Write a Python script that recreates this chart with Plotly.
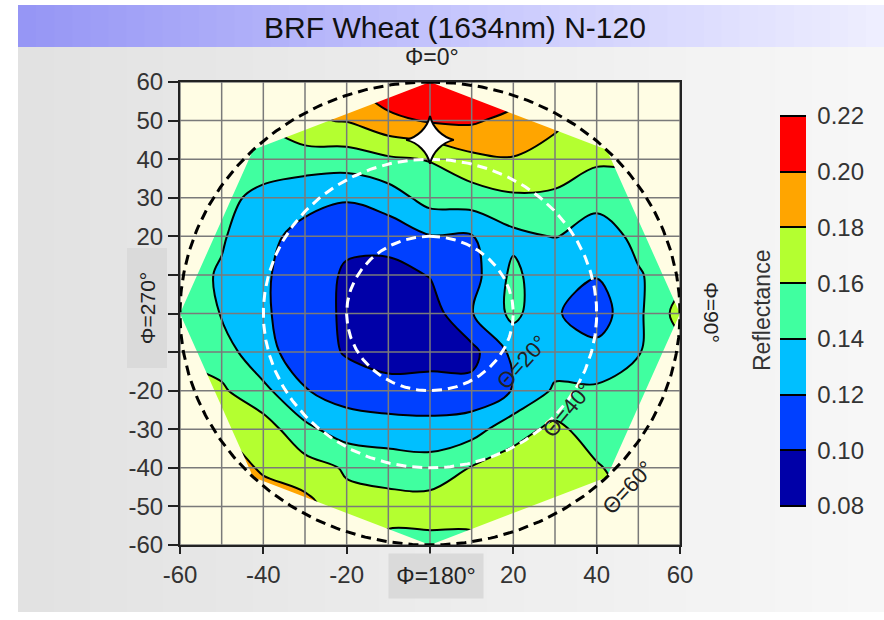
import numpy as np
import plotly.graph_objects as go

N = None

# ---------------- data ----------------
# Cartesian view-zenith grid (degrees): x = theta*sin(phi), y = theta*cos(phi)
GRID_X = [-60, -50, -40, -30, -20, -10, 0, 10, 20, 30, 40, 50, 60]
GRID_Y = [-60, -50, -40, -30, -20, -10, 0, 10, 20, 30, 40, 50, 60]

# reflectance rows, one per GRID_Y value (bottom to top); None = not sampled
BRF_Y_M60 = [N, N, N, N, N, 0.155, 0.155, 0.155, N, N, N, N, N]
BRF_Y_M50 = [N, N, 0.188, 0.187, 0.165, 0.167, 0.168, 0.168, 0.168, 0.168, 0.165, N, N]
BRF_Y_M40 = [N, 0.188, 0.178, 0.168, 0.158, 0.152, 0.149, 0.161, 0.170, 0.172, 0.162, 0.150, N]
BRF_Y_M30 = [N, 0.178, 0.170, 0.145, 0.130, 0.128, 0.127, 0.132, 0.152, 0.165, 0.150, 0.148, N]
BRF_Y_M20 = [0.172, 0.163, 0.145, 0.121, 0.112, 0.108, 0.107, 0.106, 0.121, 0.143, 0.143, 0.148, 0.152]
BRF_Y_M10 = [0.155, 0.150, 0.125, 0.112, 0.098, 0.090, 0.093, 0.094, 0.125, 0.130, 0.126, 0.139, 0.153]
BRF_Y_0 = [0.152, 0.139, 0.122, 0.112, 0.096, 0.088, 0.090, 0.119, 0.145, 0.122, 0.110, 0.136, 0.168]
BRF_Y_10 = [0.148, 0.138, 0.122, 0.112, 0.097, 0.093, 0.101, 0.112, 0.145, 0.123, 0.121, 0.138, 0.153]
BRF_Y_20 = [0.150, 0.142, 0.126, 0.113, 0.105, 0.108, 0.119, 0.119, 0.135, 0.141, 0.128, 0.146, 0.152]
BRF_Y_30 = [N, 0.148, 0.132, 0.127, 0.122, 0.130, 0.148, 0.150, 0.157, 0.157, 0.148, 0.155, N]
BRF_Y_40 = [N, 0.155, 0.155, 0.150, 0.150, 0.157, 0.161, 0.175, 0.179, 0.170, 0.163, 0.162, N]
BRF_Y_50 = [N, N, 0.161, 0.178, 0.181, 0.195, 0.202, 0.203, 0.193, 0.185, 0.170, N, N]
BRF_Y_60 = [N, N, N, N, 0.199, 0.215, 0.219, 0.218, 0.215, N, N, N, N]

BRF = [BRF_Y_M60, BRF_Y_M50, BRF_Y_M40, BRF_Y_M30, BRF_Y_M20, BRF_Y_M10, BRF_Y_0,
       BRF_Y_10, BRF_Y_20, BRF_Y_30, BRF_Y_40, BRF_Y_50, BRF_Y_60]

LEVEL_START, LEVEL_END, LEVEL_STEP = 0.08, 0.22, 0.02
BAND_COLORS = ["#0000A8", "#0040FF", "#00BFFF", "#40FFA0", "#B4FF30", "#FFA500", "#FF0000"]
COLORBAR_TICKS = [0.08, 0.10, 0.12, 0.14, 0.16, 0.18, 0.20, 0.22]

X_TICKS = [-60, -40, -20, 0, 20, 40, 60]
X_TICK_TEXT = ["-60", "-40", "-20", "", "20", "40", "60"]
Y_TICKS = [-60, -50, -40, -30, -20, -10, 0, 10, 20, 30, 40, 50, 60]
Y_TICK_TEXT = ["-60", "-50", "-40", "-30", "-20", "", "", "", "20", "30", "40", "50", "60"]
GRID_LINES = [-60, -50, -40, -30, -20, -10, 0, 10, 20, 30, 40, 50, 60]

THETA_RINGS = [20, 40, 60]
HULL_THETA = 60
HULL_PHI = [0, 45, 90, 135, 180, 225, 270, 315]
SUN_THETA = [45]
SUN_PHI = [0]

CREAM = "#FFFDE4"
FONT = "Liberation Sans, Arial, sans-serif"

# ---------------- helpers for paper coordinates ----------------
PLOT_L, PLOT_R, PLOT_T, PLOT_B = 180, 680, 82, 545
W, H = 884, 620


def pxx(p):
    return (p - PLOT_L) / (PLOT_R - PLOT_L)


def pxy(p):
    return (PLOT_B - p) / (PLOT_B - PLOT_T)


fig = go.Figure()

# contour
n = len(BAND_COLORS)
colorscale = []
for i, c in enumerate(BAND_COLORS):
    colorscale.append([i / n, c])
    colorscale.append([(i + 1) / n, c])

fig.add_trace(go.Contour(
    x=GRID_X, y=GRID_Y, z=BRF,
    autocontour=False, connectgaps=True,
    contours=dict(start=LEVEL_START, end=LEVEL_END, size=LEVEL_STEP,
                  coloring="fill", showlines=True),
    line=dict(color="black", width=2, smoothing=1),
    colorscale=colorscale, zmin=LEVEL_START, zmax=LEVEL_END,
    hoverinfo="skip",
    colorbar=dict(
        x=pxx(780), xanchor="left", xref="paper",
        y=pxy(311), yanchor="middle", yref="paper",
        len=390, lenmode="pixels", ypad=0, xpad=0,
        thickness=26, thicknessmode="pixels",
        outlinewidth=0,
        tickvals=COLORBAR_TICKS, tickformat=".2f",
        ticks="outside", ticklen=7, tickcolor="rgba(0,0,0,0)",
        tickfont=dict(family=FONT, size=24, color="#333"),
    ),
))

# cream mask outside the sampled octagon (rectangle CCW, hull CW)
hull_phi = np.radians(HULL_PHI + [360])
mx = [0, -60, -60, 60, 60, 0] + list(HULL_THETA * np.sin(hull_phi))
my = [60, 60, -60, -60, 60, 60] + list(HULL_THETA * np.cos(hull_phi))
fig.add_trace(go.Scatter(x=mx, y=my, mode="lines", fill="toself", fillcolor=CREAM,
                         line=dict(width=0, color=CREAM), hoverinfo="skip", showlegend=False))

# grid lines (drawn over the fill)
gx, gy = [], []
for v in GRID_LINES:
    gx += [v, v, None]
    gy += [GRID_LINES[0], GRID_LINES[-1], None]
    gx += [GRID_LINES[0], GRID_LINES[-1], None]
    gy += [v, v, None]
fig.add_trace(go.Scatter(x=gx, y=gy, mode="lines", line=dict(color="#7a7a7a", width=1.5),
                         hoverinfo="skip", showlegend=False))

# view-zenith circles
ang = np.radians(np.linspace(0, 360, 361))
for r in THETA_RINGS:
    col = "white" if r < HULL_THETA else "black"
    fig.add_trace(go.Scatter(x=r * np.sin(ang), y=r * np.cos(ang), mode="lines",
                             line=dict(color=col, width=3, dash="10px,6px"),
                             hoverinfo="skip", showlegend=False))

# sun position
sun_phi = np.radians(SUN_PHI)
fig.add_trace(go.Scatter(x=list(np.array(SUN_THETA) * np.sin(sun_phi)),
                         y=list(np.array(SUN_THETA) * np.cos(sun_phi)),
                         mode="markers",
                         marker=dict(symbol="star-diamond", size=34, color="white",
                                     line=dict(color="black", width=2)),
                         hoverinfo="skip", showlegend=False))

# ---------------- background panel ----------------
shapes = []
NS = 48
x_left, x_right = 18, 884
for i in range(NS):
    t = i / (NS - 1)
    xa = x_left + (x_right - x_left) * i / NS
    xb = x_left + (x_right - x_left) * (i + 1) / NS + 1
    g = int(round(226 + (247 - 226) * t))
    shapes.append(dict(type="rect", xref="paper", yref="paper",
                       x0=pxx(xa), x1=pxx(xb), y0=pxy(612), y1=pxy(47),
                       fillcolor=f"rgb({g},{g},{g})", line=dict(width=0), layer="below"))
    if t < 0.5:
        u = t / 0.5
        rr = 150 + (198 - 150) * u
        bb = 245 + (253 - 245) * u
    else:
        u = (t - 0.5) / 0.5
        rr = 198 + (238 - 198) * u
        bb = 253 + (255 - 253) * u
    shapes.append(dict(type="rect", xref="paper", yref="paper",
                       x0=pxx(xa), x1=pxx(xb), y0=pxy(47), y1=pxy(5),
                       fillcolor=f"rgb({int(rr)},{int(rr)},{int(bb)})", line=dict(width=0),
                       layer="below"))


def ann(text, x, y, ref="paper", **kw):
    d = dict(text=text, x=x, y=y, xref=ref, yref=ref, showarrow=False,
             xanchor="center", yanchor="middle")
    d.update(kw)
    return d


annotations = [
    ann("Φ=0°", pxx(432), pxy(57), font=dict(family=FONT, size=23, color="#222")),
    ann("Φ=180°", pxx(436), pxy(576), font=dict(family=FONT, size=23, color="#222"),
        bgcolor="#dadada", width=92, height=42),
    ann("Φ=270°", pxx(146.5), pxy(308), textangle=-90,
        font=dict(family=FONT, size=21, color="#222"),
        bgcolor="#dadada", width=117, height=37),
    ann("Φ=90°", pxx(712), pxy(312), textangle=90,
        font=dict(family=FONT, size=21, color="#222")),
    ann("Reflectance", pxx(762), pxy(311), textangle=-90,
        font=dict(family=FONT, size=23, color="#333")),
    ann("Θ=20°", 22.1, -12.8, ref="x", textangle=-48,
        font=dict(family=FONT, size=22, color="#222")),
    ann("Θ=40°", 33.1, -25.0, ref="x", textangle=-50,
        font=dict(family=FONT, size=22, color="#222")),
    ann("Θ=60°", 47.5, -45.0, ref="x", textangle=-47,
        font=dict(family=FONT, size=22, color="#222")),
]
for a in annotations[5:]:
    a["yref"] = "y"

axis_common = dict(showgrid=False, zeroline=False, showline=True, mirror=True,
                   linecolor="#222", linewidth=2, ticks="outside",
                   tickwidth=1.5, tickcolor="#222",
                   tickfont=dict(family=FONT, size=24, color="#333"))

fig.update_layout(
    width=W, height=H,
    margin=dict(l=PLOT_L, r=W - PLOT_R, t=PLOT_T, b=H - PLOT_B, pad=0, autoexpand=False),
    paper_bgcolor="white", plot_bgcolor=CREAM,
    title=dict(text="BRF Wheat (1634nm) N-120", x=455 / W, xref="container", xanchor="center",
               y=1 - 27 / H, yref="container", yanchor="middle",
               font=dict(family=FONT, size=30, color="#111")),
    xaxis=dict(range=[-60, 60], tickvals=X_TICKS, ticktext=X_TICK_TEXT, ticklen=7,
               **axis_common),
    yaxis=dict(range=[-60, 60], tickvals=Y_TICKS, ticktext=Y_TICK_TEXT, ticklen=10,
               **axis_common),
    shapes=shapes, annotations=annotations, showlegend=False,
)

fig.write_html("out.html", config=dict(displayModeBar=False))
